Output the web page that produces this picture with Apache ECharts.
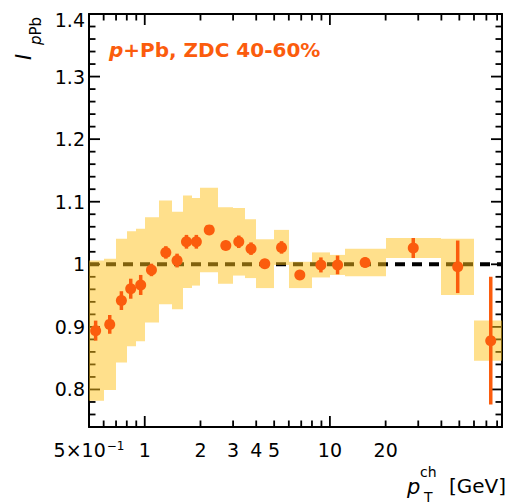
<!DOCTYPE html>
<html><head><meta charset="utf-8">
<script src="https://cdn.jsdelivr.net/npm/echarts@6/dist/echarts.min.js"></script>
<style>html,body{margin:0;padding:0;background:#fff}#c{width:511px;height:504px}</style>
</head><body><div id="c"></div>
<script>
// ---- data ----
const binLo  = [0.5,0.6,0.7,0.8,0.9,1.0,1.2,1.4,1.6,1.8,2.0,2.5,3.0,3.5,4.0,5.0,6.0,8.0,10,12,20,40,60];
const binHi  = [0.6,0.7,0.8,0.9,1.0,1.2,1.4,1.6,1.8,2.0,2.5,3.0,3.5,4.0,5.0,6.0,8.0,10,12,20,40,60,90];
const ptX    = [0.543,0.647,0.748,0.840,0.951,1.087,1.30,1.495,1.68,1.90,2.23,2.74,3.22,3.75,4.45,5.48,6.88,8.94,11.0,15.5,28.2,49.0,73.9];
const ptY    = [0.894,0.904,0.942,0.961,0.967,0.991,1.019,1.006,1.036,1.036,1.055,1.030,1.036,1.025,1.001,1.027,0.983,0.999,0.999,1.003,1.026,0.996,0.878];
const statErr= [0.016,0.015,0.015,0.016,0.016,0.010,0.010,0.011,0.011,0.011,0.005,0.006,0.010,0.010,0.005,0.010,0.005,0.012,0.015,0.008,0.016,0.042,0.102];
const sysErr = [0.112,0.105,0.099,0.092,0.090,0.084,0.083,0.078,0.074,0.070,0.0675,0.061,0.054,0.047,0.039,0.028,0.021,0.020,0.016,0.022,0.016,0.045,0.032];
const unityLevel = 1;

const xMin = 0.5, xMax = 85;
const yMin = 0.74, yMax = 1.4;
const xLabelValues = [0.5,1,2,3,4,5,10,20];
const xTickLabels  = ['5×10⁻¹','1','2','3','4','5','10','20'];
const xMajorTicks  = [1,10];
const xMinorTicks  = [0.6,0.7,0.8,0.9,2,3,4,5,6,7,8,9,20,30,40,50,60,70,80];
const yLabelValues = [0.8,0.9,1.0,1.1,1.2,1.3,1.4];
const yTickLabels  = ['0.8','0.9','1','1.1','1.2','1.3','1.4'];
const yMinorTicks  = [0.74,0.76,0.78,0.82,0.84,0.86,0.88,0.92,0.94,0.96,0.98,1.02,1.04,1.06,1.08,1.12,1.14,1.16,1.18,1.22,1.24,1.26,1.28,1.32,1.34,1.36,1.38];

const annotation = 'p+Pb, ZDC 40-60%';

// ---- styling ----
const orange = '#fb5c0d';
const boxFill = 'rgba(255,193,25,0.5)';
const FONT = '"DejaVu Sans", sans-serif';
const MAJOR_LEN = 11, MINOR_LEN = 6.5;
const lg = v => Math.log10(v);

const boxData = binLo.map((lo,i)=>[lo, binHi[i], ptY[i], sysErr[i]]);
const errData = ptX.map((x,i)=>[x, ptY[i], statErr[i]]);
const ptData  = ptX.map((x,i)=>[x, ptY[i]]);
const xTickData = xMajorTicks.map(v=>[v, yMin, 1]).concat(xMinorTicks.map(v=>[v, yMin, 0]));
const yTickData = yLabelValues.map(v=>[xMin, v, 1]).concat(yMinorTicks.map(v=>[xMin, v, 0]));

function xLabelFmt(v){
  const i = xLabelValues.findIndex(t => Math.abs(lg(t)-v) < 1e-6);
  if (i < 0) return '';
  return xTickLabels[i].replace('⁻¹','{sup|−1}');
}
function yLabelFmt(v){
  const i = yLabelValues.findIndex(t => Math.abs(t-v) < 1e-6);
  if (i < 0) return '';
  return i === yLabelValues.length - 1 ? '{top|' + yTickLabels[i] + '}' : yTickLabels[i];
}

const lineBlack = {color:'#000', width:2};
const tickStyle = {stroke:'#000', lineWidth:1.8};

const chart = echarts.init(document.getElementById('c'), null, {renderer:'svg'});
chart.setOption({
  animation:false,
  backgroundColor:'#fff',
  grid:{left:89, right:9, top:14, bottom:77, containLabel:false, outerBoundsMode:'none'},
  xAxis:[
    {type:'log', logBase:10, position:'bottom', min:xMin, max:xMax,
     axisLine:{show:true, onZero:false, lineStyle:lineBlack}, axisTick:{show:false}, axisLabel:{show:false}, splitLine:{show:false}},
    {type:'value', position:'bottom', min:lg(xMin), max:lg(xMax),
     axisLine:{show:false}, axisTick:{show:false}, splitLine:{show:false},
     axisLabel:{show:true, customValues: xLabelValues.map(lg), formatter: xLabelFmt, margin: 13,
       color:'#000', fontSize:19, fontFamily:FONT,
       rich:{sup:{fontSize:12, fontFamily:FONT, color:'#000', verticalAlign:'top', lineHeight:12, padding:[0,0,10,1]}}}},
    {type:'log', logBase:10, position:'top', min:xMin, max:xMax,
     axisLine:{show:true, onZero:false, lineStyle:lineBlack}, axisTick:{show:false}, axisLabel:{show:false}, splitLine:{show:false}}
  ],
  yAxis:[
    {type:'value', position:'left', min:yMin, max:yMax,
     axisLine:{show:true, onZero:false, lineStyle:lineBlack}, axisTick:{show:false}, splitLine:{show:false},
     axisLabel:{show:true, customValues: yLabelValues, formatter: yLabelFmt, margin:4,
       color:'#000', fontSize:19, fontFamily:FONT,
       rich:{top:{fontSize:19, fontFamily:FONT, color:'#000', padding:[12,0,0,0]}}}},
    {type:'value', position:'right', min:yMin, max:yMax,
     axisLine:{show:true, onZero:false, lineStyle:lineBlack}, axisTick:{show:false}, axisLabel:{show:false}, splitLine:{show:false}}
  ],
  series:[
    {type:'custom', name:'xTicks', z:1, silent:true, data:xTickData, encode:{x:0, y:1},
     renderItem(params, api){
       const v = api.value(0), len = api.value(2) ? MAJOR_LEN : MINOR_LEN;
       const b = api.coord([v, yMin]), t = api.coord([v, yMax]);
       return {type:'group', children:[
         {type:'line', shape:{x1:b[0], y1:b[1], x2:b[0], y2:b[1]-len}, style:tickStyle},
         {type:'line', shape:{x1:t[0], y1:t[1], x2:t[0], y2:t[1]+len}, style:tickStyle}
       ]};
     }},
    {type:'custom', name:'yTicks', z:1, silent:true, data:yTickData, encode:{x:0, y:1},
     renderItem(params, api){
       const v = api.value(1), len = api.value(2) ? MAJOR_LEN : MINOR_LEN;
       const l = api.coord([xMin, v]), r = api.coord([xMax, v]);
       return {type:'group', children:[
         {type:'line', shape:{x1:l[0], y1:l[1], x2:l[0]+len, y2:l[1]}, style:tickStyle},
         {type:'line', shape:{x1:r[0], y1:r[1], x2:r[0]-len, y2:r[1]}, style:tickStyle}
       ]};
     }},
    {type:'line', name:'unity', z:1, silent:true, showSymbol:false, symbol:'none',
     data:[[xMin, unityLevel],[xMax, unityLevel]],
     lineStyle:{color:'#000', width:4, type:[10,7]}},
    {type:'custom', name:'syst', z:2, silent:true,
     data: boxData, encode:{x:[0,1], y:[2]},
     renderItem(params, api){
       const lo = api.value(0), hi = api.value(1), v = api.value(2), s = api.value(3);
       const p1 = api.coord([lo, v + s]);
       const p2 = api.coord([hi, v - s]);
       const x1 = Math.round(p1[0]), x2 = Math.round(p2[0]);
       const cs = params.coordSys;
       const r = echarts.graphic.clipRectByRect(
         {x:x1, y:p1[1], width:x2-x1, height:p2[1]-p1[1]},
         {x:cs.x, y:cs.y, width:cs.width, height:cs.height});
       return r ? {type:'rect', shape:r, style:{fill:boxFill}} : null;
     }},
    {type:'custom', name:'stat', z:3, silent:true,
     data: errData, encode:{x:[0], y:[1]},
     renderItem(params, api){
       const x = api.value(0), v = api.value(1), e = api.value(2);
       const a = api.coord([x, v - e]), b = api.coord([x, v + e]);
       return {type:'line', shape:{x1:a[0], y1:a[1], x2:b[0], y2:b[1]}, style:{stroke:orange, lineWidth:3.5}};
     }},
    {type:'scatter', name:'IpPb', z:4, silent:true, data: ptData, symbol:'circle', symbolSize:11,
     itemStyle:{color:orange, opacity:1}}
  ],
  graphic:[
    {type:'text', x:109, y:50, z:10, style:{
      text: annotation.replace(/^p/, '{i|p}'), align:'left', verticalAlign:'middle',
      fill: orange, font:'bold 20px ' + FONT,
      rich:{i:{fill:orange, fontStyle:'italic', fontWeight:'bold', fontSize:20, fontFamily:FONT}}}},
    {type:'text', x:24, y:57, rotation:Math.PI/2, style:{text:'I', align:'center', verticalAlign:'middle',
      fill:'#000', font:'italic 21px ' + FONT}},
    {type:'text', x:36, y:45, rotation:Math.PI/2, style:{text:'{i|p}Pb', align:'left', verticalAlign:'middle',
      fill:'#000', font:'15px ' + FONT,
      rich:{i:{fill:'#000', fontStyle:'italic', fontSize:15, fontFamily:FONT}}}},
    {type:'text', x:407, y:487, style:{text:'p', align:'left', verticalAlign:'middle', fill:'#000', font:'italic 21px ' + FONT}},
    {type:'text', x:420, y:472, style:{text:'ch', align:'left', verticalAlign:'middle', fill:'#000', font:'14px ' + FONT}},
    {type:'text', x:424, y:497, style:{text:'T', align:'left', verticalAlign:'middle', fill:'#000', font:'14px ' + FONT}},
    {type:'text', x:506, y:486, style:{text:'[GeV]', align:'right', verticalAlign:'middle', fill:'#000', font:'20px ' + FONT}}
  ]
});
</script>
</body></html>
